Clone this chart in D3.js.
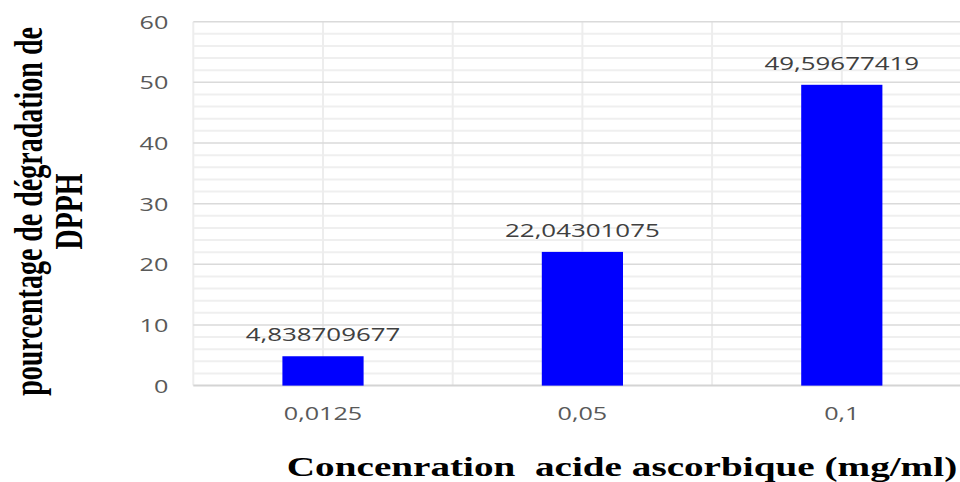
<!DOCTYPE html>
<html>
<head>
<meta charset="utf-8">
<script src="https://cdn.jsdelivr.net/npm/d3@7"></script>
<style>
  body { margin: 0; background: #fff; }
  svg { display: block; }
</style>
</head>
<body>
<svg id="chart" width="960" height="482"></svg>
<script>
// chart data
const categories = ["0,0125", "0,05", "0,1"];
const values = [4.838709677, 22.04301075, 49.59677419];
const yTicks = [0, 10, 20, 30, 40, 50, 60];
const yMinor = d3.range(0, 61, 2);

const W = 960, H = 482;
const SX = 1.4;  // source picture is stretched horizontally, text follows it

const plotLeft = 193.3, step = 259.4;
const plotTop = 21.7, plotBottom = 385.6;

const svg = d3.select("#chart");

const x = d3.scaleBand()
  .domain(categories)
  .range([plotLeft, plotLeft + step * categories.length])
  .paddingInner(0.687)
  .paddingOuter(0.687 / 2);

const y = d3.scaleLinear().domain([0, 60]).range([plotBottom, plotTop]);

// minor horizontal grid
svg.append("g")
  .selectAll("line")
  .data(yMinor.filter(v => v % 10 !== 0))
  .join("line")
  .attr("x1", plotLeft).attr("x2", W)
  .attr("y1", d => y(d)).attr("y2", d => y(d))
  .attr("stroke", "#efefef").attr("stroke-width", 2);

// vertical grid: band edges + band centres
const vLines = [];
categories.forEach((c, i) => {
  vLines.push(plotLeft + step * i);
  vLines.push(plotLeft + step * i + step / 2);
});
svg.append("g")
  .selectAll("line")
  .data(vLines)
  .join("line")
  .attr("x1", d => d).attr("x2", d => d)
  .attr("y1", plotTop).attr("y2", plotBottom)
  .attr("stroke", "#ededed").attr("stroke-width", 2);

// major horizontal grid
svg.append("g")
  .selectAll("line")
  .data(yTicks)
  .join("line")
  .attr("x1", plotLeft).attr("x2", W)
  .attr("y1", d => y(d)).attr("y2", d => y(d))
  .attr("stroke", d => d === 0 ? "#d4d4d4" : "#dadada")
  .attr("stroke-width", d => d === 0 ? 2 : 1.5);

// bars
svg.append("g")
  .selectAll("rect")
  .data(values)
  .join("rect")
  .attr("x", (d, i) => x(categories[i]))
  .attr("width", x.bandwidth())
  .attr("y", d => y(d))
  .attr("height", d => y(0) - y(d))
  .attr("fill", "#0000ff");

// value labels
svg.append("g")
  .selectAll("text")
  .data(values)
  .join("text")
  .attr("transform", (d, i) =>
    `translate(${x(categories[i]) + x.bandwidth() / 2},${y(d) - 15}) scale(${SX},1)`)
  .attr("text-anchor", "middle")
  .style("font-family", "'Open Sans', sans-serif")
  .style("font-size", "18.5px")
  .attr("fill", "#404040")
  .text(d => String(d).replace(".", ","));

// y axis
const yAxis = svg.append("g")
  .attr("transform", `translate(${plotLeft},0)`)
  .call(d3.axisLeft(y).tickValues(yTicks).tickSize(0));
yAxis.select(".domain").remove();
yAxis.selectAll("text")
  .attr("x", null).attr("dy", null)
  .attr("transform", `translate(-25,6.4) scale(${SX},1)`)
  .attr("text-anchor", "end")
  .style("font-family", "'Open Sans', sans-serif")
  .style("font-size", "18px")
  .attr("fill", "#595959");

// x axis
const xAxis = svg.append("g")
  .attr("transform", `translate(0,${plotBottom})`)
  .call(d3.axisBottom(x).tickSize(0));
xAxis.select(".domain").remove();
xAxis.selectAll("text")
  .attr("y", null).attr("dy", null)
  .attr("transform", `translate(0,34) scale(${SX},1)`)
  .attr("text-anchor", "middle")
  .style("font-family", "'Open Sans', sans-serif")
  .style("font-size", "18px")
  .attr("fill", "#595959");

// axis titles
svg.append("text")
  .attr("transform", `translate(622,476) scale(${SX},1)`)
  .attr("text-anchor", "middle")
  .style("font-family", "'Liberation Serif', 'Times New Roman', serif")
  .style("font-weight", "bold")
  .style("font-size", "28px")
  .attr("fill", "#000")
  .text("Concenration\u00a0 acide ascorbique (mg/ml)");

const yTitle = svg.append("text")
  .attr("transform", `translate(42,211.5) scale(${SX},1) rotate(-90)`)
  .attr("text-anchor", "middle")
  .style("font-family", "'Liberation Serif', 'Times New Roman', serif")
  .style("font-weight", "bold")
  .style("font-size", "28px")
  .attr("fill", "#000");
yTitle.append("tspan").attr("x", 0).attr("y", 0).text("pourcentage de dégradation de");
yTitle.append("tspan").attr("x", 0).attr("y", 40 / SX).text("DPPH");
</script>
</body>
</html>
